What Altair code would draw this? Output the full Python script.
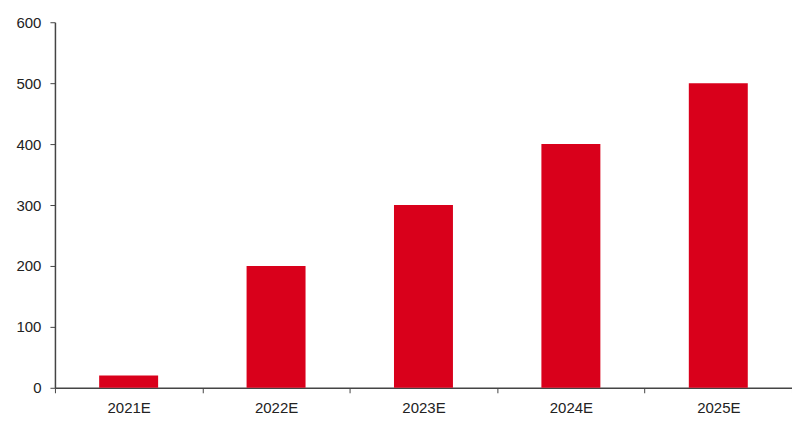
import altair as alt
import pandas as pd

years = ["2021E", "2022E", "2023E", "2024E", "2025E"]
values = [20, 200, 300, 400, 500]

df = pd.DataFrame({"year": years, "value": values})

chart = alt.Chart(df).mark_bar(color="#d9001b", width=alt.RelativeBandSize(0.4)).encode(
    x=alt.X("year:N", sort=years,
            scale=alt.Scale(paddingInner=0, paddingOuter=0),
            axis=alt.Axis(title=None, labelAngle=0, tickBand="extent",
                          labelFontSize=15, labelColor="#222", labelPadding=8,
                          domainColor="#444", tickColor="#444", tickSize=5)),
    y=alt.Y("value:Q", scale=alt.Scale(domain=[0, 600]),
            axis=alt.Axis(title=None, values=[0, 100, 200, 300, 400, 500, 600],
                          grid=False, labelFontSize=15, labelColor="#222",
                          domainColor="#444", tickColor="#444", tickSize=5,
                          labelPadding=9)),
).properties(
    width=738, height=366,
    autosize=alt.AutoSizeParams(type="none"),
    padding={"left": 47, "top": 14, "right": 0, "bottom": 40},
).configure_axis(
    labelFont="Liberation Sans", domainWidth=1.5,
).configure_view(stroke=None)

chart.save("out.html", embed_options={"renderer": "svg", "actions": False})
